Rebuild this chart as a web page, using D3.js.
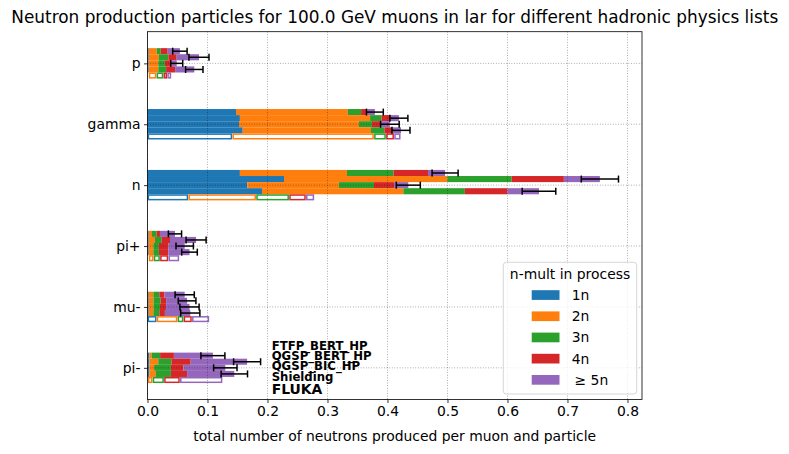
<!DOCTYPE html>
<html>
<head>
<meta charset="utf-8">
<script src="https://cdn.jsdelivr.net/npm/d3@7"></script>
<style>
  body { margin: 0; background: #fff; }
  text { font-family: "DejaVu Sans", sans-serif; }
</style>
</head>
<body>
<script>
// categories and series
const particles = ['p', 'gamma', 'n', 'pi+', 'mu-', 'pi-'];
const physicsLists = ['FTFP_BERT_HP', 'QGSP_BERT_HP', 'QGSP_BIC_HP', 'Shielding', 'FLUKA'];
const multLabels = ['1n', '2n', '3n', '4n', '\u2265 5n'];
const xTicks = [0, 0.1, 0.2, 0.3, 0.4, 0.5, 0.6, 0.7, 0.8];

// neutrons per muon and particle, split by multiplicity [1n, 2n, 3n, 4n, >=5n]
// one row per particle, same order as `particles`
const ftfpBertHp = [
  [0.002, 0.0133, 0.0067, 0.0117, 0.0203],
  [0.1475, 0.1865, 0.022, 0.010, 0.013],
  [0.154, 0.1785, 0.0775, 0.0575, 0.0285],
  [0.002, 0.0055, 0.0078, 0.0055, 0.025],
  [0.002, 0.0077, 0.010, 0.0083, 0.034],
  [0.003, 0.004, 0.014, 0.023, 0.065],
];
const qgspBertHp = [
  [0.002, 0.017, 0.0157, 0.0139, 0.0372],
  [0.154, 0.217, 0.019, 0.014, 0.015],
  [0.2275, 0.2722, 0.1073, 0.087, 0.060],
  [0.002, 0.0105, 0.0112, 0.0138, 0.0435],
  [0.002, 0.008, 0.012, 0.009, 0.035],
  [0.003, 0.015, 0.022, 0.032, 0.094],
];
const qgspBicHp = [
  [0.002, 0.016, 0.011, 0.010, 0.0097],
  [0.1525, 0.200, 0.0215, 0.015, 0.015],
  [0.1663, 0.1527, 0.0585, 0.0335, 0.0237],
  [0.002, 0.0077, 0.0093, 0.0157, 0.0273],
  [0.002, 0.008, 0.0108, 0.0102, 0.039],
  [0.003, 0.008, 0.028, 0.021, 0.0697],
];
const shielding = [
  [0.002, 0.016, 0.013, 0.015, 0.032],
  [0.1587, 0.2138, 0.0222, 0.0133, 0.0145],
  [0.1908, 0.2356, 0.1026, 0.071, 0.0525],
  [0.002, 0.0077, 0.0093, 0.0157, 0.0353],
  [0.002, 0.0077, 0.010, 0.0093, 0.0423],
  [0.003, 0.011, 0.025, 0.027, 0.0787],
];
const fluka = [
  [0.002, 0.013, 0.0115, 0.0063, 0.0069],
  [0.1413, 0.2362, 0.020, 0.0135, 0.011],
  [0.068, 0.113, 0.055, 0.028, 0.014],
  [0.002, 0.0083, 0.0105, 0.0139, 0.0183],
  [0.0153, 0.0347, 0.010, 0.014, 0.029],
  [0.0005, 0.008, 0.019, 0.0265, 0.071],
];

// statistical error on the total (no errors for FLUKA)
const ftfpBertHpErr = [0.012, 0.014, 0.0217, 0.011, 0.016, 0.020];
const qgspBertHpErr = [0.0167, 0.015, 0.031, 0.0167, 0.0147, 0.0225];
const qgspBicHpErr = [0.010, 0.0155, 0.020, 0.0145, 0.016, 0.0195];
const shieldingErr = [0.0145, 0.015, 0.028, 0.013, 0.016, 0.022];

const colors = ['#1f77b4', '#ff7f0e', '#2ca02c', '#d62728', '#9467bd'];

const width = 789;
const height = 454;
const plot = { left: 147.5, right: 642, top: 31.7, bottom: 399.5 };

const lists = [
  { name: physicsLists[0], values: ftfpBertHp, err: ftfpBertHpErr, filled: true },
  { name: physicsLists[1], values: qgspBertHp, err: qgspBertHpErr, filled: true },
  { name: physicsLists[2], values: qgspBicHp, err: qgspBicHpErr, filled: true },
  { name: physicsLists[3], values: shielding, err: shieldingErr, filled: true },
  { name: physicsLists[4], values: fluka, err: null, filled: false },
];

const barH = 0.1;

const x = d3.scaleLinear().domain([0, 0.8242]).range([plot.left, plot.right]);
const y = d3.scaleLinear().domain([-0.52, 5.52]).range([plot.top, plot.bottom]);

const svg = d3.select('body').append('svg')
  .attr('width', width)
  .attr('height', height);

const stack = d3.stack().keys([0, 1, 2, 3, 4]);

const barsG = svg.append('g');
lists.forEach((list, j) => {
  const off = (j - 2) * barH;
  const series = stack(list.values);
  const g = barsG.append('g');
  series.forEach((s, k) => {
    g.selectAll(null)
      .data(s)
      .enter()
      .append('rect')
      .attr('x', (d) => x(d[0]) + (list.filled ? 0 : 0.9))
      .attr('width', (d) => Math.max(0, x(d[1]) - x(d[0]) - (list.filled ? 0 : 1.8)))
      .attr('y', (d, i) => y(i + off - barH / 2) + (list.filled ? 0 : 0.75))
      .attr('height', y(barH) - y(0) - (list.filled ? 0 : 1.5))
      .attr('fill', list.filled ? colors[k] : 'none')
      .attr('stroke', list.filled ? 'none' : colors[k])
      .attr('stroke-width', 1.5);
  });
});

// grid on top of the bars
const grid = svg.append('g')
  .attr('stroke', '#000')
  .attr('stroke-opacity', 0.5)
  .attr('stroke-width', 0.8)
  .attr('stroke-dasharray', '0.8,1.8');
grid.selectAll('.gx').data(xTicks).enter().append('line')
  .attr('x1', (d) => x(d)).attr('x2', (d) => x(d))
  .attr('y1', plot.top).attr('y2', plot.bottom);
grid.selectAll('.gy').data(particles).enter().append('line')
  .attr('x1', plot.left).attr('x2', plot.right)
  .attr('y1', (d, i) => y(i)).attr('y2', (d, i) => y(i));

// error bars
const errG = svg.append('g').attr('stroke', '#000').attr('stroke-width', 1.5);
lists.forEach((list, j) => {
  if (!list.err) return;
  const off = (j - 2) * barH;
  particles.forEach((p, i) => {
    const tot = d3.sum(list.values[i]);
    const e = list.err[i];
    const cy = y(i + off);
    errG.append('line')
      .attr('x1', x(tot - e)).attr('x2', x(tot + e))
      .attr('y1', cy).attr('y2', cy);
    [tot - e, tot + e].forEach((v) => {
      errG.append('line')
        .attr('x1', x(v)).attr('x2', x(v))
        .attr('y1', cy - 3.5).attr('y2', cy + 3.5);
    });
  });
});

// physics list labels next to the pi- bars
const labelOffsets = [-18, -8, 2.2, 13, 25.7];
svg.append('g').selectAll('text')
  .data(physicsLists)
  .enter()
  .append('text')
  .attr('x', x(0.207))
  .attr('y', (d, j) => y(5) + labelOffsets[j])
  .attr('font-weight', 'bold')
  .attr('font-size', (d, j) => (j === 4 ? 13.9 : 11.7))
  .attr('fill', '#000')
  .text((d) => d);

// axes
const xAxis = d3.axisBottom(x).tickValues(xTicks).tickFormat(d3.format('.1f')).tickSizeOuter(0).tickSize(3.5).tickPadding(3.5);
const yAxis = d3.axisLeft(y).tickValues(d3.range(particles.length)).tickFormat((d) => particles[d]).tickSizeOuter(0).tickSize(3.5).tickPadding(3.5);

const gx = svg.append('g').attr('transform', `translate(0,${plot.bottom})`).call(xAxis);
const gy = svg.append('g').attr('transform', `translate(${plot.left},0)`).call(yAxis);
[gx, gy].forEach((g) => {
  g.select('.domain').remove();
  g.selectAll('.tick line').attr('stroke', '#000').attr('stroke-width', 0.8);
  g.selectAll('.tick text').attr('font-size', 13.9).attr('fill', '#000')
    .style('font-family', '"DejaVu Sans", sans-serif');
});

// frame
svg.append('rect')
  .attr('x', plot.left).attr('y', plot.top)
  .attr('width', plot.right - plot.left).attr('height', plot.bottom - plot.top)
  .attr('fill', 'none').attr('stroke', '#000').attr('stroke-width', 0.8);

// title and axis label
svg.append('text')
  .attr('x', (plot.left + plot.right) / 2).attr('y', 23)
  .attr('text-anchor', 'middle').attr('font-size', 16.9).attr('fill', '#000')
  .text('Neutron production particles for 100.0 GeV muons in lar for different hadronic physics lists');
svg.append('text')
  .attr('x', (plot.left + plot.right) / 2).attr('y', 441)
  .attr('text-anchor', 'middle').attr('font-size', 13.9).attr('fill', '#000')
  .text('total number of neutrons produced per muon and particle');

// legend
const leg = svg.append('g');
leg.append('rect')
  .attr('x', 503.3).attr('y', 262.3).attr('width', 133.4).attr('height', 131.7)
  .attr('rx', 3).attr('fill', '#fff').attr('fill-opacity', 0.8)
  .attr('stroke', '#cccccc').attr('stroke-width', 0.8);
leg.append('text')
  .attr('x', 570).attr('y', 278.5).attr('text-anchor', 'middle')
  .attr('font-size', 13.9).attr('fill', '#000')
  .text('n-mult in process');
const items = leg.selectAll('.item').data(multLabels).enter().append('g')
  .attr('transform', (d, i) => `translate(0,${295 + i * 21.2})`);
items.append('rect')
  .attr('x', 531.7).attr('y', -4.8).attr('width', 27.8).attr('height', 9.7)
  .attr('fill', (d, i) => colors[i]);
items.append('text')
  .attr('x', (d, i) => (i === 4 ? 574.5 : 571.7)).attr('y', 5)
  .attr('font-size', 13.9).attr('fill', '#000')
  .text((d) => d);
</script>
</body>
</html>
